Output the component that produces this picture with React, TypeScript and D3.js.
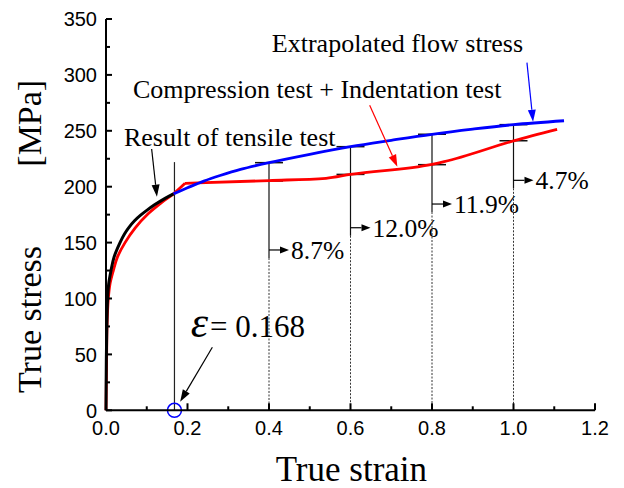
import React from "react";
import * as d3 from "d3";

// ---- data ----
const tensileStrain = [0, 0.0008, 0.002, 0.0039, 0.0066, 0.0123, 0.0197, 0.0344, 0.045, 0.055, 0.07, 0.085, 0.1, 0.12, 0.145, 0.1655];
const tensileStress = [0, 45, 75, 100, 113, 125, 137, 150, 157.5, 163, 169.5, 174.5, 178.8, 184, 189.6, 193.6];

const compStrain = [0, 0.0015, 0.0025, 0.0057, 0.0098, 0.018, 0.028, 0.0467, 0.0713, 0.104, 0.137, 0.1655, 0.194, 0.4, 0.54, 0.6, 0.8, 0.83, 1.0, 1.107];
const compStress = [0, 45, 75, 100, 113, 125, 137, 150, 163, 176, 186, 193.6, 203, 205.5, 207.5, 211, 220, 222.4, 241, 251.3];
const compKinkStrain = 0.194;

const extraStrain = [0.1655, 0.2, 0.24, 0.28, 0.33, 0.4, 0.5, 0.6, 0.7, 0.8, 0.9, 1.0, 1.124];
const extraStress = [193.6, 199, 205, 210, 215.5, 221.5, 229, 235.8, 241.5, 246.9, 251.5, 255.5, 259];

const barStrain = [0.4, 0.6, 0.8, 1.0];
const barTop = [221.5, 235.8, 246.9, 255.5];
const barBottom = [205.1, 211, 219.7, 241.1];
const barLabels = ["8.7%", "12.0%", "11.9%", "4.7%"];
const barArrowStress = [143.4, 163.3, 184.5, 205.7];

const xTicks = [0, 0.2, 0.4, 0.6, 0.8, 1.0, 1.2];
const xMinor = [0.1, 0.3, 0.5, 0.7, 0.9, 1.1];
const yTicks = [0, 50, 100, 150, 200, 250, 300, 350];
const yMinor = [25, 75, 125, 175, 225, 275, 325];

const criticalStrain = 0.168;
const criticalTop = 222;

const x = d3.scaleLinear().domain([0, 1.2]).range([106, 595]);
const y = d3.scaleLinear().domain([0, 350]).range([410.3, 19]);

const serif = "'Liberation Serif', 'Times New Roman', serif";
const sans = "'Liberation Sans', Arial, sans-serif";

function Arrow({ x1, y1, x2, y2, color = "#000", width = 1, headLen = 11, headW = 7 }: any) {
  const dx = x2 - x1, dy = y2 - y1;
  const L = Math.hypot(dx, dy);
  const ux = dx / L, uy = dy / L;
  const bx = x2 - ux * headLen, by = y2 - uy * headLen;
  const px = -uy * headW / 2, py = ux * headW / 2;
  return (
    <g>
      <line x1={x1} y1={y1} x2={bx} y2={by} stroke={color} strokeWidth={width} />
      <polygon points={`${x2},${y2} ${bx + px},${by + py} ${bx - px},${by - py}`} fill={color} />
    </g>
  );
}

function makePath(xs: number[], ys: number[], curve: any = d3.curveMonotoneX) {
  const pts = xs.map((v, i) => [v, ys[i]] as [number, number]);
  return d3.line<[number, number]>().x(d => x(d[0])).y(d => y(d[1])).curve(curve)(pts) || "";
}

const smooth = d3.curveCatmullRom.alpha(0.5);

const compLow = compStrain.map((s, i) => [s, compStress[i]]).filter(d => d[0] <= compKinkStrain);
const compHigh = compStrain.map((s, i) => [s, compStress[i]]).filter(d => d[0] >= compKinkStrain);

export default function App() {
  return (
    <svg width={624} height={488} style={{ position: "absolute", left: 0, top: 0, background: "#fff" }}>
      <rect width={624} height={488} fill="#fff" />
      {/* vertical line at critical strain */}
      <line x1={x(criticalStrain)} x2={x(criticalStrain)} y1={y(0)} y2={y(criticalTop)} stroke="#222" strokeWidth={1.2} />

      {/* error bars and verticals */}
      {barStrain.map((s, i) => {
        const cx = x(s);
        const ay = y(barArrowStress[i]);
        return (
          <g key={i}>
            <line x1={cx} x2={cx} y1={y(barTop[i])} y2={ay + 8} stroke="#111" strokeWidth={1.2} />
            <line x1={cx} x2={cx} y1={ay + 8} y2={y(0)} stroke="#333" strokeWidth={1} strokeDasharray="2,1.5" />
            <line x1={cx - 14} x2={cx + 14} y1={y(barTop[i])} y2={y(barTop[i])} stroke="#111" strokeWidth={1.5} />
            <line x1={cx - 14} x2={cx + 14} y1={y(barBottom[i])} y2={y(barBottom[i])} stroke="#111" strokeWidth={1.5} />
            <Arrow x1={cx} y1={ay} x2={cx + 20} y2={ay} headLen={9} headW={7} width={1.2} />
            <text x={cx + 22} y={ay} dy="0.35em" fontFamily={serif} fontSize={25.5} fill="#000">{barLabels[i]}</text>
          </g>
        );
      })}

      {/* curves */}
      <path d={makePath(compHigh.map(d => d[0]), compHigh.map(d => d[1]))} fill="none" stroke="#ff0000" strokeWidth={2.8} strokeLinejoin="round" />
      <path d={makePath(compLow.map(d => d[0]), compLow.map(d => d[1]), smooth)} fill="none" stroke="#ff0000" strokeWidth={2.8} />
      <path d={makePath(extraStrain, extraStress, smooth)} fill="none" stroke="#0000ff" strokeWidth={2.8} />
      <path d={makePath(tensileStrain, tensileStress, smooth)} fill="none" stroke="#000" strokeWidth={3} />

      {/* circle at critical strain */}
      <circle cx={x(criticalStrain)} cy={y(0)} r={7} fill="none" stroke="#0000ff" strokeWidth={1.5} />

      {/* axes */}
      <line x1={x(0)} x2={x(1.2)} y1={y(0)} y2={y(0)} stroke="#000" strokeWidth={2} />
      <line x1={x(0)} x2={x(0)} y1={y(0)} y2={y(350)} stroke="#000" strokeWidth={2} />
      {xTicks.map(t => (
        <g key={"xt" + t}>
          <line x1={x(t)} x2={x(t)} y1={y(0)} y2={y(0) - 7} stroke="#000" strokeWidth={2} />
          <text x={x(t)} y={435} textAnchor="middle" fontFamily={sans} fontSize={20} fill="#000">{t.toFixed(1)}</text>
        </g>
      ))}
      {xMinor.map(t => (
        <line key={"xm" + t} x1={x(t)} x2={x(t)} y1={y(0)} y2={y(0) - 4} stroke="#000" strokeWidth={2} />
      ))}
      {yTicks.map(t => (
        <g key={"yt" + t}>
          <line x1={x(0)} x2={x(0) + 6} y1={y(t)} y2={y(t)} stroke="#000" strokeWidth={2} />
          <text x={97} y={y(t)} dy="0.36em" textAnchor="end" fontFamily={sans} fontSize={20} fill="#000">{t}</text>
        </g>
      ))}
      {yMinor.map(t => (
        <line key={"ym" + t} x1={x(0)} x2={x(0) + 4} y1={y(t)} y2={y(t)} stroke="#000" strokeWidth={2} />
      ))}

      {/* axis titles */}
      <text x={351.4} y={481} textAnchor="middle" fontFamily={serif} fontSize={35} fill="#000">True strain</text>
      <text transform="rotate(-90)" fontFamily={serif} fontSize={34} fill="#000">
        <tspan x={-393} y={41}>True stress</tspan>
        <tspan x={-166.7} y={41}>[MPa]</tspan>
      </text>

      {/* annotations */}
      <text x={x(0.407)} y={y(320.3)} fontFamily={serif} fontSize={26} fill="#000">Extrapolated flow stress</text>
      <text x={x(0.066)} y={y(279.6)} fontFamily={serif} fontSize={26} fill="#000">Compression test + Indentation test</text>
      <text x={x(0.044)} y={y(236.7)} fontFamily={serif} fontSize={26} fill="#000">Result of tensile test</text>
      <Arrow x1={x(1.033)} y1={y(311)} x2={x(1.048)} y2={y(258.1)} color="#0000ff" width={1.2} headLen={12} headW={8} />
      <Arrow x1={x(0.647)} y1={y(272.8)} x2={x(0.715)} y2={y(217.9)} color="#ff0000" width={1.2} headLen={12} headW={8} />
      <Arrow x1={x(0.112)} y1={y(233.7)} x2={x(0.125)} y2={y(191.1)} color="#000" width={1.2} headLen={12} headW={8} />
      <Arrow x1={x(0.261)} y1={y(56.4)} x2={x(0.182)} y2={y(7.7)} color="#000" width={1.2} headLen={12} headW={8} />
      <text x={x(0.208)} y={y(65.8)} fontFamily={serif} fill="#000">
        <tspan fontStyle="italic" fontSize={44}>ε</tspan>
        <tspan fontSize={31} dx={2}>= 0.168</tspan>
      </text>
    </svg>
  );
}
